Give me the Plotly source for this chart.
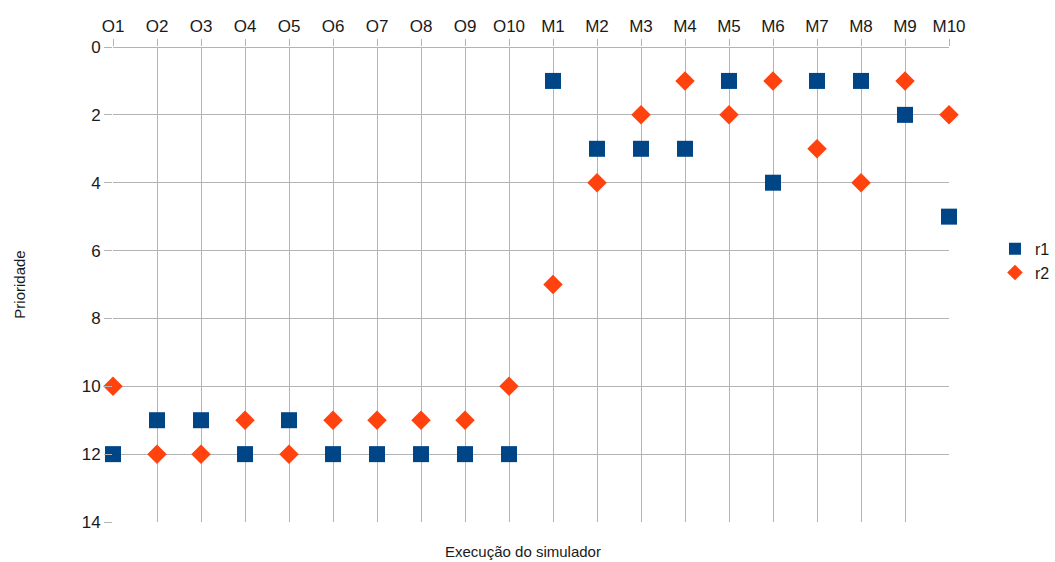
import plotly.graph_objects as go

# Execution runs of the simulator
categorias = ["O1", "O2", "O3", "O4", "O5", "O6", "O7", "O8", "O9", "O10",
              "M1", "M2", "M3", "M4", "M5", "M6", "M7", "M8", "M9", "M10"]

# Priority values per run
r1 = [12, 11, 11, 12, 11, 12, 12, 12, 12, 12,
      1, 3, 3, 3, 1, 4, 1, 1, 2, 5]
r2 = [10, 12, 12, 11, 12, 11, 11, 11, 11, 10,
      7, 4, 2, 1, 2, 1, 3, 4, 1, 2]

y_ticks = [0, 2, 4, 6, 8, 10, 12, 14]

FONT = "Liberation Sans, Arial, sans-serif"
GRID = "#b3b3b3"

fig = go.Figure()
fig.add_trace(go.Scatter(
    x=categorias, y=r1, name="r1", mode="markers",
    marker=dict(symbol="square", size=16, color="#004586"),
    cliponaxis=False,
))
fig.add_trace(go.Scatter(
    x=categorias, y=r2, name="r2", mode="markers",
    marker=dict(symbol="diamond", size=15, color="#ff420e"),
    cliponaxis=False,
))

fig.update_layout(
    width=1055, height=562,
    margin=dict(l=113, r=106, t=47, b=40, autoexpand=False),
    paper_bgcolor="white", plot_bgcolor="white",
    font=dict(family=FONT, size=16, color="#1a1a1a"),
    showlegend=True,
    legend=dict(x=1.055, y=0.55, xanchor="left", yanchor="middle",
                font=dict(size=16), itemsizing="constant"),
    xaxis=dict(
        type="category", categoryorder="array", categoryarray=categorias,
        side="top", range=[0, len(categorias) - 1],
        showgrid=True, gridcolor=GRID, gridwidth=1,
        ticks="outside", ticklen=7, tickcolor=GRID,
        showline=False,
        zeroline=True, zerolinecolor=GRID, zerolinewidth=1,
        tickfont=dict(size=17),
    ),
    yaxis=dict(
        range=[14, 0], tickvals=y_ticks,
        showgrid=True, gridcolor=GRID, gridwidth=1,
        ticks="outside", ticklen=8, tickcolor=GRID,
        showline=False,
        zeroline=True, zerolinecolor=GRID, zerolinewidth=1,
        tickfont=dict(size=17),
        title=dict(text="Prioridade", font=dict(size=15), standoff=52),
    ),
    annotations=[dict(
        text="Execução do simulador", xref="paper", yref="paper",
        x=0.49, y=-0.04, xanchor="center", yanchor="top",
        showarrow=False, font=dict(size=15),
    )],
)

fig.write_html("out.html")
